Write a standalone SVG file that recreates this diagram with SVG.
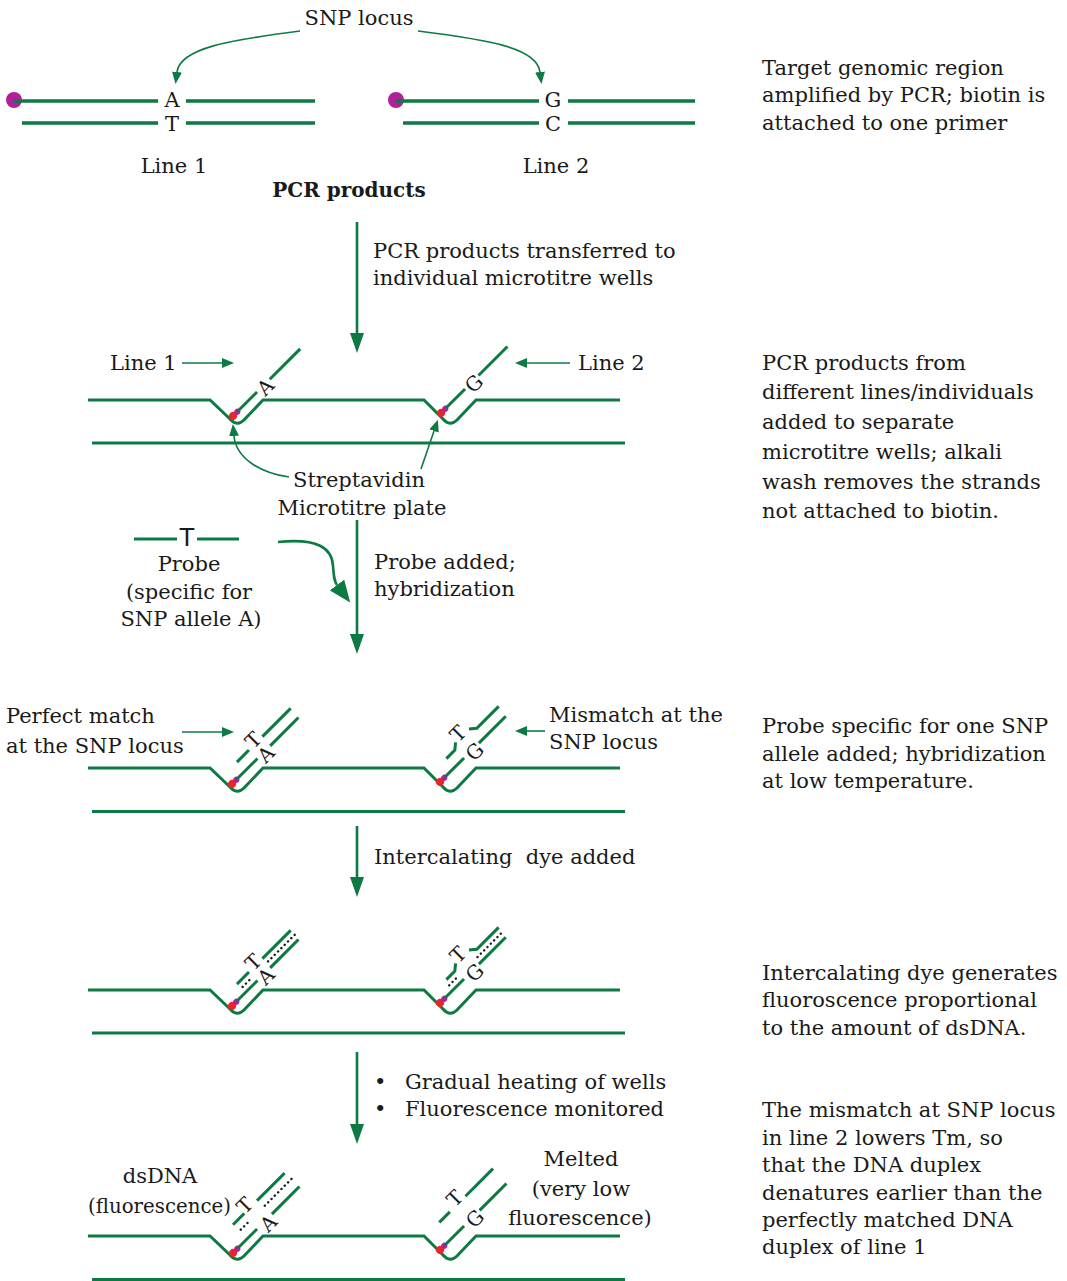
<svg xmlns="http://www.w3.org/2000/svg" width="1067" height="1281" viewBox="0 0 1067 1281">
  <style>
    text { font-family: "DejaVu Serif", "Liberation Serif", serif; font-size: 21px; fill: #1a1a1a; }
    .mid { text-anchor: middle; }
    .bold { font-weight: bold; font-size: 20px; }
    .sans { font-family: "Liberation Sans", Arial, sans-serif; font-size: 26px; }
    .base { font-size: 20px; text-anchor: middle; }
    .dna { stroke: #0d7a43; stroke-width: 3.5; fill: none; }
    .strand { stroke: #0d7a43; stroke-width: 3; fill: none; }
    .plate { stroke: #0d7a43; stroke-width: 3; fill: none; }
    .dye { stroke: #1a1a1a; stroke-width: 2.4; stroke-dasharray: 0.1 4.6; stroke-linecap: round; fill: none; }
    .flow { stroke: #0d7a43; stroke-width: 2.6; fill: none; }
    .pointer { stroke: #0d7a43; stroke-width: 1.6; fill: none; }
    .biotin { fill: #b21f9a; }
    .avidin { fill: #e8262a; }
  </style>
  <defs>
    <marker id="headL" markerUnits="userSpaceOnUse" markerWidth="20" markerHeight="14" refX="0" refY="7" orient="auto">
      <path d="M0,0 L20,7 L0,14 z" fill="#0d7a43"/>
    </marker>
    <marker id="headM" markerUnits="userSpaceOnUse" markerWidth="22" markerHeight="18" refX="0" refY="9" orient="auto">
      <path d="M0,0 L22,9 L0,18 z" fill="#0d7a43"/>
    </marker>
    <marker id="headS" markerUnits="userSpaceOnUse" markerWidth="12" markerHeight="10" refX="0" refY="5" orient="auto">
      <path d="M0,0 L12,5 L0,10 z" fill="#0d7a43"/>
    </marker>
    <!-- streptavidin (red) and biotin (magenta) at the foot of each bound strand -->
    <g id="anchor">
      <circle class="avidin" cx="0" cy="0" r="4"/>
      <circle class="biotin" cx="6" cy="0" r="3"/>
    </g>
  </defs>

  <!-- ===== PCR products ===== -->
  <g id="pcr-products">
    <text class="mid" x="359" y="25">SNP locus</text>
    <g id="line1-product">
      <circle class="biotin" cx="14" cy="100" r="8"/>
      <path class="dna" d="M14,101 H158 M186,101 H315 M22,123 H158 M186,123 H315"/>
      <text class="mid" x="172" y="107">A</text>
      <text class="mid" x="172" y="131">T</text>
      <text class="mid" x="174" y="173">Line 1</text>
    </g>
    <g id="line2-product">
      <circle class="biotin" cx="396" cy="100" r="8"/>
      <path class="dna" d="M396,101 H539 M568,101 H695 M403,123 H539 M568,123 H695"/>
      <text class="mid" x="553" y="107">G</text>
      <text class="mid" x="553" y="131">C</text>
      <text class="mid" x="556" y="173">Line 2</text>
    </g>
    <text class="mid bold" x="349" y="197">PCR products</text>
  </g>

  <!-- ===== connectors ===== -->
  <g id="connectors">
    <path class="pointer" d="M300,31 C230,40 180,48 177,72" marker-end="url(#headS)"/>
    <path class="pointer" d="M418,31 C490,40 537,48 540,72" marker-end="url(#headS)"/>
    <line class="flow" x1="357" y1="222" x2="357" y2="333" marker-end="url(#headL)"/>
    <line class="pointer" x1="182" y1="363" x2="222" y2="363" marker-end="url(#headS)"/>
    <line class="pointer" x1="570" y1="363" x2="527" y2="363" marker-end="url(#headS)"/>
    <path class="pointer" d="M289,477 C260,473 236,458 234,436" marker-end="url(#headS)"/>
    <path class="pointer" d="M421,469 L434,431" marker-end="url(#headS)"/>
    <line class="flow" x1="357" y1="520" x2="357" y2="634" marker-end="url(#headL)"/>
    <path class="flow" d="M278,542 C318,538 332,548 333,566 C334,577 334,581 337,585" marker-end="url(#headM)"/>
    <line class="pointer" x1="182" y1="732" x2="222" y2="732" marker-end="url(#headS)"/>
    <line class="pointer" x1="545" y1="731" x2="527" y2="731" marker-end="url(#headS)"/>
    <line class="flow" x1="357" y1="826" x2="357" y2="877" marker-end="url(#headL)"/>
    <line class="flow" x1="357" y1="1052" x2="357" y2="1124" marker-end="url(#headL)"/>
  </g>

  <!-- step labels along the central flow -->
  <g id="step-labels">
    <text x="373" y="258">PCR products transferred to</text>
    <text x="373" y="285">individual microtitre wells</text>
    <text x="374" y="569">Probe added;</text>
    <text x="374" y="596">hybridization</text>
    <text x="374" y="864" xml:space="preserve">Intercalating  dye added</text>
    <text x="374" y="1089">•</text>
    <text x="405" y="1089">Gradual heating of wells</text>
    <text x="374" y="1116">•</text>
    <text x="405" y="1116">Fluorescence monitored</text>
  </g>

  <!-- ===== wells with bound strands ===== -->
  <g id="wells-bound">
    <path class="plate" d="M88,400 H210 L230,419 Q237,427 244,420 L263,400 H424 L443,419 Q450,427 457,420 L476,400 H620"/>
    <path class="plate" d="M92,443 H625"/>
    <g transform="translate(233,416) rotate(-45)">
      <use href="#anchor"/>
      <path class="strand" d="M7,0 H34 M52,0 H95"/>
      <text class="base" x="43.5" y="9.5">A</text>
    </g>
    <g transform="translate(441,413) rotate(-45)">
      <use href="#anchor"/>
      <path class="strand" d="M7,0 H34 M53,0 H94"/>
      <text class="base" x="44" y="9.5">G</text>
    </g>
    <text x="110" y="370">Line 1</text>
    <text x="578" y="370">Line 2</text>
    <text class="mid" x="359" y="487">Streptavidin</text>
    <text class="mid" x="362" y="515">Microtitre plate</text>
  </g>

  <!-- ===== probe ===== -->
  <g id="probe">
    <path class="strand" d="M134,539 H177 M197,539 H239"/>
    <text class="sans mid" x="187" y="546">T</text>
    <text class="mid" x="189" y="571">Probe</text>
    <text class="mid" x="189" y="599">(specific for</text>
    <text class="mid" x="191" y="626">SNP allele A)</text>
  </g>

  <!-- ===== hybridized probe ===== -->
  <g id="wells-hybridized">
    <path class="plate" d="M88,768 H210 L230,787 Q237,795 244,788 L263,768 H424 L443,787 Q450,795 457,788 L476,768 H620"/>
    <path class="plate" d="M92,811.5 H625"/>
    <g transform="translate(232,784) rotate(-45)">
      <use href="#anchor"/>
      <path class="strand" d="M7,0 H36 M54,0 H94 M19,-12 H36 M55,-12 H95"/>
      <text class="base" x="46" y="-9">T</text>
      <text class="base" x="45" y="10">A</text>
    </g>
    <g transform="translate(440,782) rotate(-45)">
      <use href="#anchor"/>
      <path class="strand" d="M7,0 H34 M55,0 H93 M21,-12 H33 L39,-17 M58,-17 L64,-12 H95"/>
      <text class="base" x="47" y="-14.5">T</text>
      <text class="base" x="46" y="10">G</text>
    </g>
    <text x="6" y="723">Perfect match</text>
    <text x="6" y="753">at the SNP locus</text>
    <text x="549" y="722">Mismatch at the</text>
    <text x="549" y="749">SNP locus</text>
  </g>

  <!-- ===== intercalating dye ===== -->
  <g id="wells-dye">
    <path class="plate" d="M88,990 H210 L230,1009 Q237,1017 244,1010 L263,990 H424 L443,1009 Q450,1017 457,1010 L476,990 H620"/>
    <path class="plate" d="M92,1033 H625"/>
    <g transform="translate(232,1006) rotate(-45)">
      <use href="#anchor"/>
      <path class="strand" d="M7,0 H36 M54,0 H94 M19,-12 H36 M55,-12 H95"/>
      <path class="dye" d="M21,-6 H35 M57,-6 H95"/>
      <text class="base" x="46" y="-9">T</text>
      <text class="base" x="45" y="10">A</text>
    </g>
    <g transform="translate(440,1003) rotate(-45)">
      <use href="#anchor"/>
      <path class="strand" d="M7,0 H34 M55,0 H93 M21,-12 H33 L39,-17 M58,-17 L64,-12 H95"/>
      <path class="dye" d="M19,-6 H32 M59,-6 H95"/>
      <text class="base" x="47" y="-14.5">T</text>
      <text class="base" x="46" y="10">G</text>
    </g>
  </g>

  <!-- ===== melting ===== -->
  <g id="wells-melting">
    <path class="plate" d="M88,1236 H210 L230,1255 Q237,1263 244,1256 L263,1236 H424 L443,1255 Q450,1263 457,1256 L476,1236 H620"/>
    <path class="plate" d="M92,1279.5 H625"/>
    <g transform="translate(233,1253) rotate(-45)">
      <use href="#anchor"/>
      <path class="strand" d="M7,0 H34 M55,0 H94 M20,-20 H36 M54,-20 H93"/>
      <path class="dye" d="M22,-11 H36 M56,-11 H95"/>
      <text class="base" x="42" y="-18.5">T</text>
      <text class="base" x="46" y="11">A</text>
    </g>
    <g transform="translate(440,1250) rotate(-45)">
      <use href="#anchor"/>
      <path class="strand" d="M7,0 H34 M56,0 H94 M19,-20 H34 M56,-20 H95"/>
      <text class="base" x="47" y="-19">T</text>
      <text class="base" x="47" y="9.5">G</text>
    </g>
    <text class="mid" x="160" y="1183">dsDNA</text>
    <text x="88" y="1213" textLength="143" lengthAdjust="spacingAndGlyphs">(fluorescence)</text>
    <text class="mid" x="581" y="1166">Melted</text>
    <text class="mid" x="581" y="1196">(very low</text>
    <text class="mid" x="580" y="1225">fluorescence)</text>
  </g>

  <!-- ===== explanatory notes ===== -->
  <g id="notes">
    <text x="762" y="75">Target genomic region</text>
    <text x="762" y="102">amplified by PCR; biotin is</text>
    <text x="762" y="130">attached to one primer</text>

    <text x="762" y="370">PCR products from</text>
    <text x="762" y="399">different lines/individuals</text>
    <text x="762" y="429">added to separate</text>
    <text x="762" y="459">microtitre wells; alkali</text>
    <text x="762" y="489">wash removes the strands</text>
    <text x="762" y="518">not attached to biotin.</text>

    <text x="762" y="733">Probe specific for one SNP</text>
    <text x="762" y="761">allele added; hybridization</text>
    <text x="762" y="788">at low temperature.</text>

    <text x="762" y="980">Intercalating dye generates</text>
    <text x="762" y="1007">fluoroscence proportional</text>
    <text x="762" y="1035">to the amount of dsDNA.</text>

    <text x="762" y="1117">The mismatch at SNP locus</text>
    <text x="762" y="1145">in line 2 lowers Tm, so</text>
    <text x="762" y="1172">that the DNA duplex</text>
    <text x="762" y="1200">denatures earlier than the</text>
    <text x="762" y="1227">perfectly matched DNA</text>
    <text x="762" y="1254">duplex of line 1</text>
  </g>
</svg>
